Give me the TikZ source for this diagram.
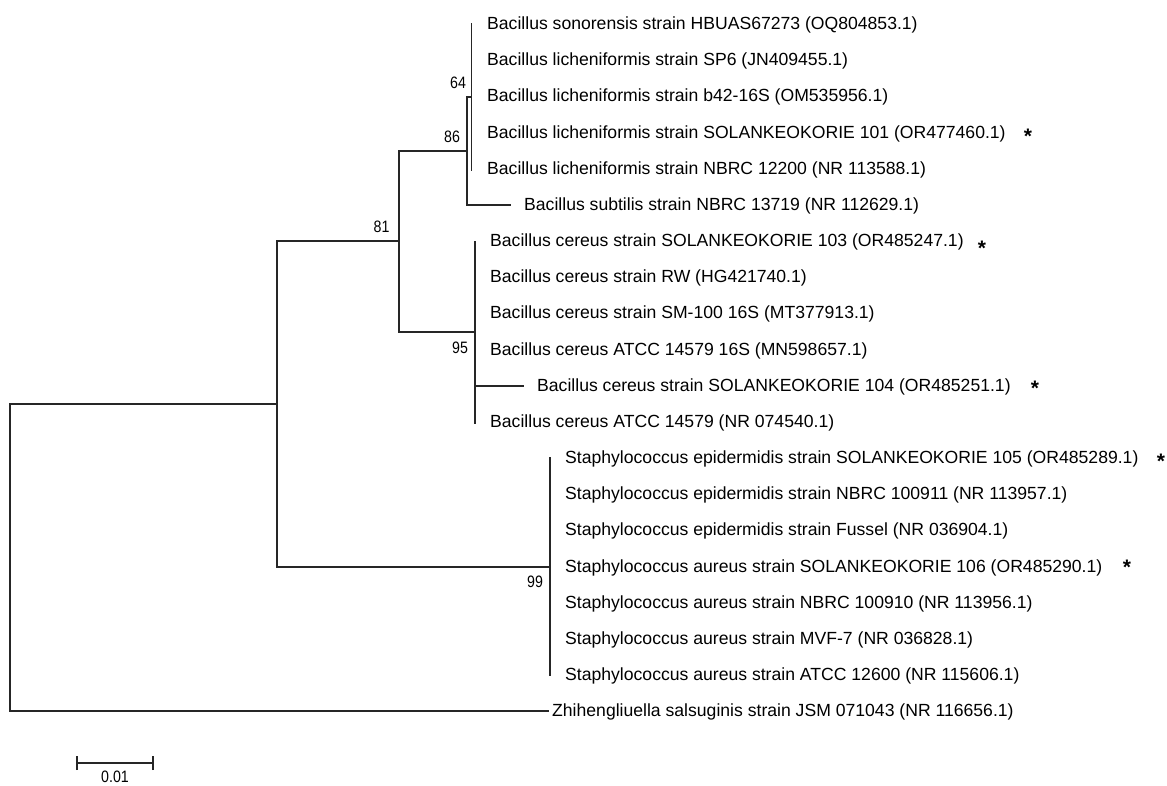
\documentclass[tikz,border=0pt]{standalone}
\usepackage{fontspec}
\setmainfont{Liberation Sans}
\begin{document}
\begin{tikzpicture}[x=1pt,y=-1pt,
  br/.style={line width=1.3pt, color=black!85, line cap=rect},
  leaf/.style={anchor=base west, inner sep=0pt, font=\fontsize{17.6}{17.6}\selectfont},
  boot/.style={inner sep=0pt, xscale=0.86, font=\fontsize{16.5}{16.5}\selectfont},
  star/.style={inner sep=0pt, font=\fontsize{21}{21}\selectfont\bfseries}]
\useasboundingbox (0,0) rectangle (1167,785);
% leaves
\node[leaf] (l1) at (487,29.5) {Bacillus sonorensis strain HBUAS67273 (OQ804853.1)};
\node[leaf] (l2) at (487,65.5) {Bacillus licheniformis strain SP6 (JN409455.1)};
\node[leaf] (l3) at (487,101.5) {Bacillus licheniformis strain b42-16S (OM535956.1)};
\node[leaf] (l4) at (487,138) {Bacillus licheniformis strain SOLANKEOKORIE 101 (OR477460.1)};
\node[leaf] (l5) at (487,174) {Bacillus licheniformis strain NBRC 12200 (NR 113588.1)};
\node[leaf] (l6) at (524,210.5) {Bacillus subtilis strain NBRC 13719 (NR 112629.1)};
\node[leaf] (l7) at (490,246.5) {Bacillus cereus strain SOLANKEOKORIE 103 (OR485247.1)};
\node[leaf] (l8) at (490,282.5) {Bacillus cereus strain RW (HG421740.1)};
\node[leaf] (l9) at (490,318.5) {Bacillus cereus strain SM-100 16S (MT377913.1)};
\node[leaf] (l10) at (490,355) {Bacillus cereus ATCC 14579 16S (MN598657.1)};
\node[leaf] (l11) at (537,391) {Bacillus cereus strain SOLANKEOKORIE 104 (OR485251.1)};
\node[leaf] (l12) at (490,427) {Bacillus cereus ATCC 14579 (NR 074540.1)};
\node[leaf] (l13) at (565,463.5) {Staphylococcus epidermidis strain SOLANKEOKORIE 105 (OR485289.1)};
\node[leaf] (l14) at (565,499.5) {Staphylococcus epidermidis strain NBRC 100911 (NR 113957.1)};
\node[leaf] (l15) at (565,535.5) {Staphylococcus epidermidis strain Fussel (NR 036904.1)};
\node[leaf] (l16) at (565,572) {Staphylococcus aureus strain SOLANKEOKORIE 106 (OR485290.1)};
\node[leaf] (l17) at (565,608) {Staphylococcus aureus strain NBRC 100910 (NR 113956.1)};
\node[leaf] (l18) at (565,644) {Staphylococcus aureus strain MVF-7 (NR 036828.1)};
\node[leaf] (l19) at (565,680.5) {Staphylococcus aureus strain ATCC 12600 (NR 115606.1)};
\node[leaf] (l20) at (552,716.5) {Zhihengliuella salsuginis strain JSM 071043 (NR 116656.1)};
% asterisks
\node[star] (s4) at (1028,136) {*};
\node[star] (s7) at (982,248) {*};
\node[star] (s11) at (1035,388) {*};
\node[star] (s13) at (1161,461) {*};
\node[star] (s16) at (1127,567) {*};
% internal nodes
\coordinate (n64) at (471.5,97);
\coordinate (n86) at (467,151);
\coordinate (n95) at (475,332);
\coordinate (n81) at (399,241);
\coordinate (n99) at (550,567);
\coordinate (nb) at (277,404);
\coordinate (root) at (10,404);
% branches
\draw[br] (n64 |- 0,24) -- (n64 |- 0,170);
\draw[br] (n86 |- n64) -- (n64);
\draw[br] (n86 |- n64) -- (n86 |- 0,205) -- ([xshift=-14pt]l6.base west |- 0,205);
\draw[br] (n81 |- n86) -- (n86);
\draw[br] (n95 |- 0,242) -- (n95 |- 0,423);
\draw[br] (n95 |- 0,386) -- ([xshift=-14pt]l11.base west |- 0,386);
\draw[br] (n81 |- n86) -- (n81 |- n95) -- (n95);
\draw[br] (nb |- n81) -- (n81);
\draw[br] (n99 |- 0,458) -- (n99 |- 0,675);
\draw[br] (nb |- n81) -- (nb |- n99) -- (n99);
\draw[br] (nb) -- (root) -- (root |- 0,711) -- ([xshift=-4pt]l20.base west |- 0,711);
% bootstrap values
\node[boot] (b64) at (458,83) {64};
\node[boot] (b86) at (452,137) {86};
\node[boot] (b81) at (381.5,226.5) {81};
\node[boot] (b95) at (460,348) {95};
\node[boot] (b99) at (535,582) {99};
% scale bar
\coordinate (sa) at (77,763);
\coordinate (sb) at (153,763);
\draw[br, line cap=butt] (sa) -- (sb);
\draw[br, line cap=butt] ([yshift=-7pt]sa) -- ([yshift=7pt]sa);
\draw[br, line cap=butt] ([yshift=-7pt]sb) -- ([yshift=7pt]sb);
\node[boot] (sl) at (115,777) {0.01};
\end{tikzpicture}
\end{document}
